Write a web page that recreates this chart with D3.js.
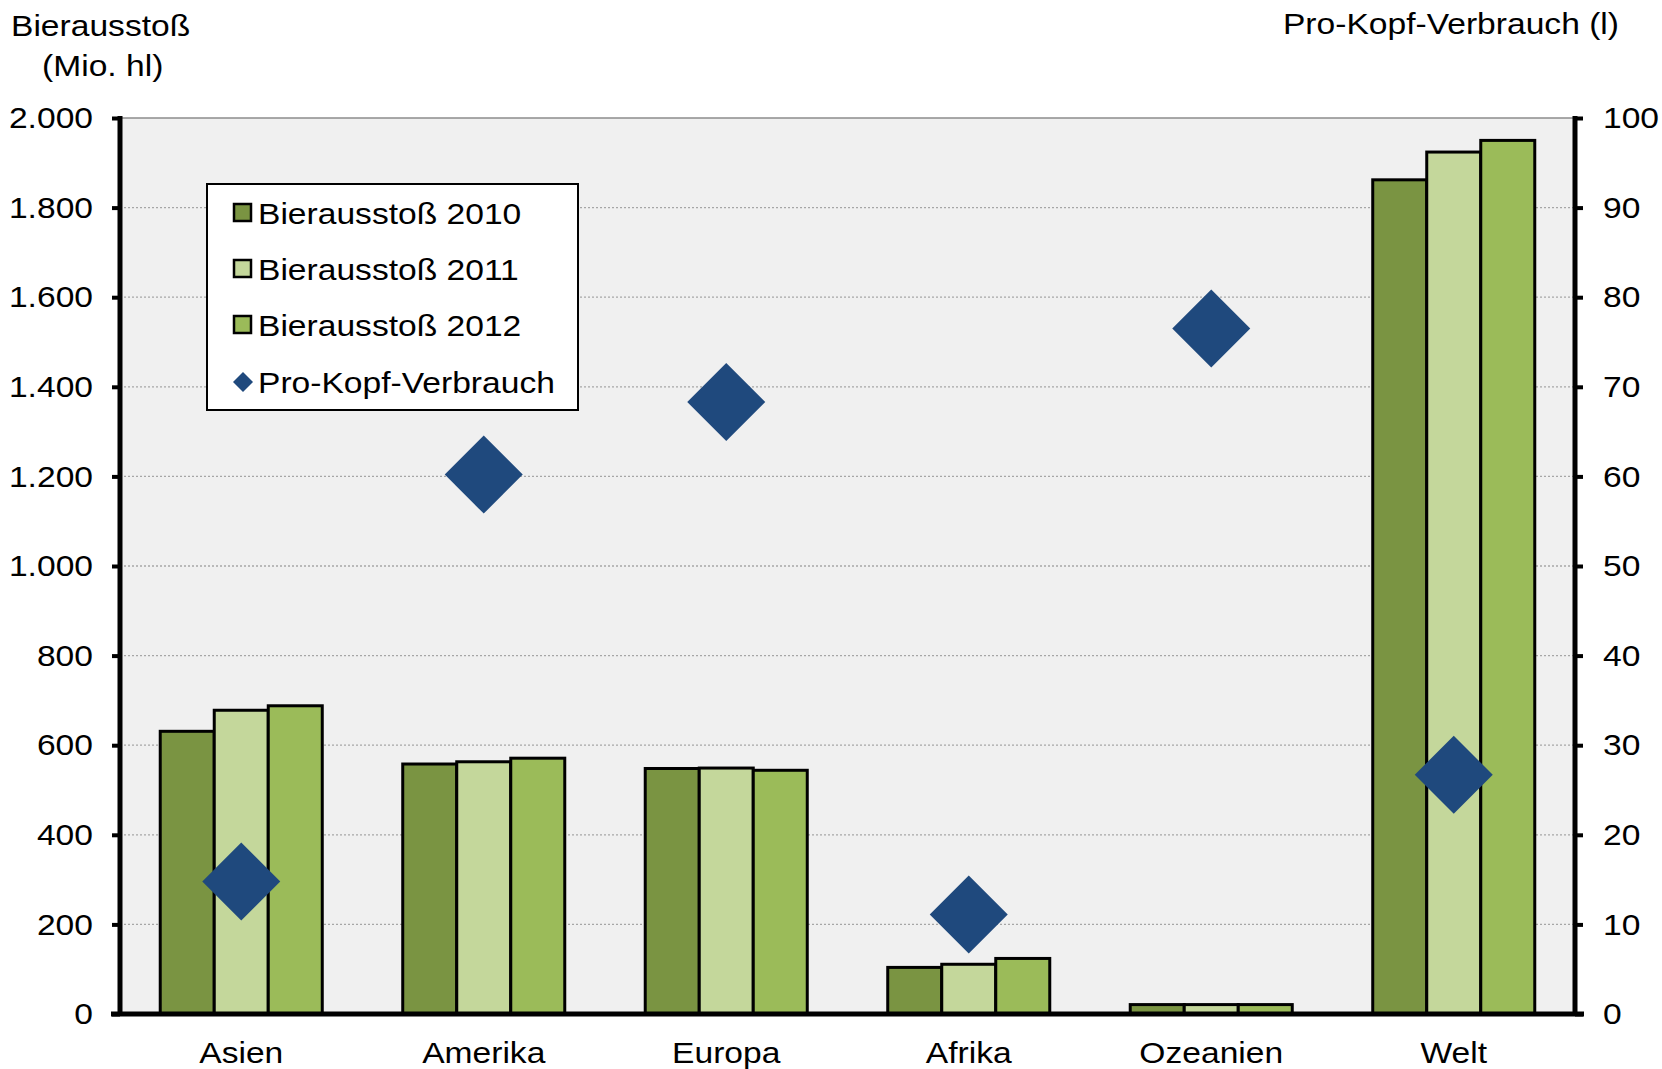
<!DOCTYPE html>
<html>
<head>
<meta charset="utf-8">
<script src="https://cdn.jsdelivr.net/npm/d3@7"></script>
<style>
  html, body { margin: 0; padding: 0; background: #fff; }
  svg { display: block; }
  text { font-family: "Liberation Sans", Arial, sans-serif; fill: #000; }
</style>
</head>
<body>
<svg id="chart" width="1662" height="1069"></svg>
<script>
// ---- Data ----
const categories = ["Asien", "Amerika", "Europa", "Afrika", "Ozeanien", "Welt"];
const seriesNames = ["Bierausstoß 2010", "Bierausstoß 2011", "Bierausstoß 2012"];
const output2010 = [631, 558, 548, 104, 21, 1862];
const output2011 = [678, 563, 549, 111, 21, 1924];
const output2012 = [688, 571, 544, 124, 21, 1950];
const perCapita = [14.8, 60.2, 68.3, 11.1, 76.5, 26.7];
const perCapitaName = "Pro-Kopf-Verbrauch";
const leftTicks = [0, 200, 400, 600, 800, 1000, 1200, 1400, 1600, 1800, 2000];
const rightTicks = [0, 10, 20, 30, 40, 50, 60, 70, 80, 90, 100];
const leftTitle = ["Bierausstoß", "(Mio. hl)"];
const rightTitle = "Pro-Kopf-Verbrauch (l)";

const seriesValues = [output2010, output2011, output2012];
const colors = ["#7a9442", "#c4d79b", "#9bbb59"];
const diamondColor = "#1f497d";

// ---- Layout ----
const pL = 120, pR = 1575, pT = 118, pB = 1014;
const SX = 1.12; // horizontal text stretch
const svg = d3.select("#chart");

const de = d3.formatLocale({decimal: ",", thousands: ".", grouping: [3], currency: ["", " €"]});
const fmt = de.format(",d");

function stretch(sel) {
  sel.each(function () {
    const t = d3.select(this);
    const xv = +(t.attr("x") || 0);
    t.attr("x", xv / SX);
    const tr = t.attr("transform") || "";
    t.attr("transform", tr + ` scale(${SX},1)`);
  });
}
function label(x0, y0, txt, anchor) {
  return svg.append("text")
    .attr("transform", `translate(${x0},${y0}) scale(${SX},1)`)
    .attr("text-anchor", anchor || "start")
    .style("font-size", "30px").text(txt);
}

const x = d3.scaleBand().domain(categories).range([pL, pR]).padding(0);
const x1 = d3.scaleBand().domain(seriesNames).range([0, x.bandwidth()]).paddingInner(0).paddingOuter(0.745);
const yL = d3.scaleLinear().domain([0, 2000]).range([pB, pT]);
const yR = d3.scaleLinear().domain([0, 100]).range([pB, pT]);

// plot background
svg.append("rect").attr("x", pL).attr("y", pT).attr("width", pR - pL).attr("height", pB - pT)
  .attr("fill", "#f0f0f0");

// gridlines
svg.append("g").selectAll("line").data(leftTicks.filter(d => d > 0 && d < 2000)).join("line")
  .attr("x1", pL).attr("x2", pR)
  .attr("y1", d => yL(d)).attr("y2", d => yL(d))
  .attr("stroke", "#a6a6a6").attr("stroke-width", 1.3).attr("stroke-dasharray", "2,2");
svg.append("line").attr("x1", pL).attr("x2", pR).attr("y1", yL(2000)).attr("y2", yL(2000))
  .attr("stroke", "#8c8c8c").attr("stroke-width", 1.5);

// bars
const barData = [];
categories.forEach((c, i) => {
  seriesNames.forEach((s, j) => barData.push({c, s, j, v: seriesValues[j][i]}));
});
svg.append("g").selectAll("rect").data(barData).join("rect")
  .attr("x", d => x(d.c) + x1(d.s))
  .attr("y", d => yL(d.v))
  .attr("width", x1.bandwidth())
  .attr("height", d => yL(0) - yL(d.v))
  .attr("fill", d => colors[d.j])
  .attr("stroke", "#000").attr("stroke-width", 3);

// diamonds
const dsz = 39;
svg.append("g").selectAll("path").data(categories.map((c, i) => ({c, v: perCapita[i]}))).join("path")
  .attr("transform", d => `translate(${x(d.c) + x.bandwidth() / 2},${yR(d.v)})`)
  .attr("d", `M0,${-dsz}L${dsz},0L0,${dsz}L${-dsz},0Z`)
  .attr("fill", diamondColor);

// axes
const axL = svg.append("g").attr("transform", `translate(${pL},0)`)
  .call(d3.axisLeft(yL).tickValues(leftTicks).tickFormat(fmt).tickSize(8).tickPadding(19));
const axR = svg.append("g").attr("transform", `translate(${pR},0)`)
  .call(d3.axisRight(yR).tickValues(rightTicks).tickFormat(d3.format("d")).tickSize(8).tickPadding(20));
[axL, axR].forEach(a => {
  a.select(".domain").attr("stroke", "#000").attr("stroke-width", 5)
    .attr("d", `M0,${pT - 2}V${pB + 2}`);
  a.selectAll(".tick line").attr("stroke", "#000").attr("stroke-width", 4);
  a.selectAll(".tick text").style("font-size", "30px").attr("fill", "#000")
    .style("font-family", '"Liberation Sans", Arial, sans-serif').call(stretch);
});

// bottom axis
const axB = svg.append("g").attr("transform", `translate(0,${pB})`)
  .call(d3.axisBottom(x).tickSize(0).tickPadding(28));
axB.select(".domain").attr("stroke", "#000").attr("stroke-width", 5)
  .attr("d", `M${pL - 9},0H${pR + 9}`);
axB.selectAll(".tick text").style("font-size", "30px").attr("fill", "#000")
  .style("font-family", '"Liberation Sans", Arial, sans-serif').call(stretch);

// titles
label(11, 36, leftTitle[0]);
label(42, 76, leftTitle[1]);
label(1619, 34, rightTitle, "end");

// legend
const lg = svg.append("g");
lg.append("rect").attr("x", 207).attr("y", 184).attr("width", 371).attr("height", 226)
  .attr("fill", "#fff").attr("stroke", "#000").attr("stroke-width", 2);
const rowsY = [213, 269, 325, 382];
seriesNames.forEach((s, j) => {
  lg.append("rect").attr("x", 234).attr("y", rowsY[j] - 9).attr("width", 17).attr("height", 17)
    .attr("fill", colors[j]).attr("stroke", "#000").attr("stroke-width", 2.5);
  label(258, rowsY[j] + 10.5, s);
});
lg.append("path").attr("transform", `translate(243,${rowsY[3]})`)
  .attr("d", "M0,-10L10,0L0,10L-10,0Z").attr("fill", diamondColor);
label(258, rowsY[3] + 10.5, perCapitaName);
</script>
</body>
</html>
